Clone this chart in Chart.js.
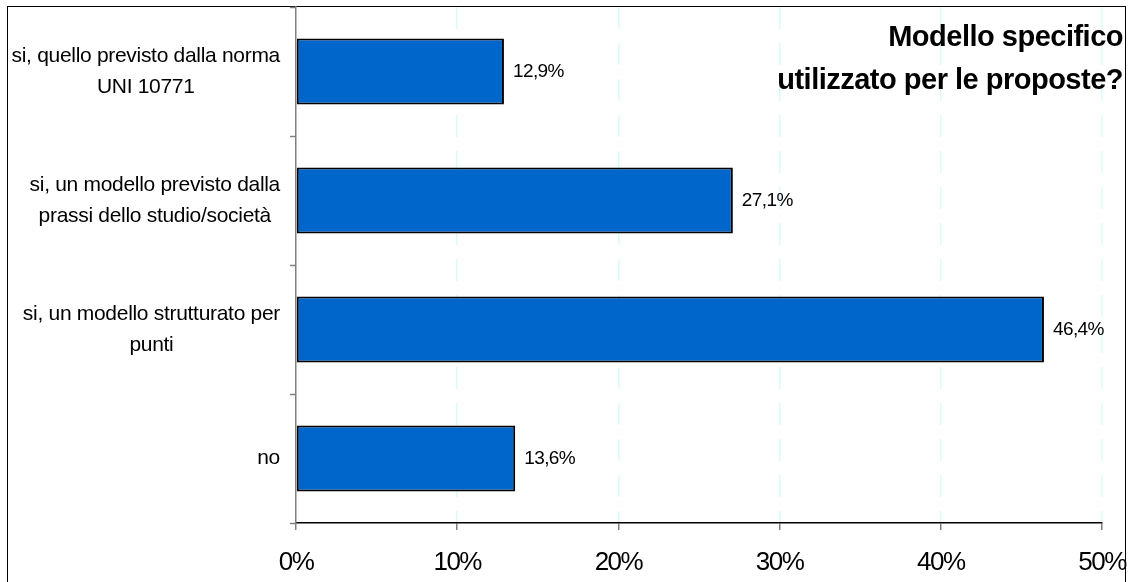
<!DOCTYPE html>
<html>
<head>
<meta charset="utf-8">
<script src="https://cdn.jsdelivr.net/npm/chart.js@4/dist/chart.umd.min.js"></script>
<style>
  html, body { margin: 0; padding: 0; background: #fff; overflow: hidden; }
  #frame {
    position: absolute; left: 7px; top: 6px; width: 1119px; height: 600px;
    border: 1.5px solid #000; box-sizing: border-box;
  }
  #wrap { position: absolute; left: 0; top: 0; width: 1134px; height: 582px; }
</style>
</head>
<body>
<div id="frame"></div>
<div id="wrap"><canvas id="modelChart" width="1134" height="582"></canvas></div>
<script>
// Risposte: modello specifico utilizzato per le proposte
const categories = [
  ['si, quello previsto dalla norma', 'UNI 10771'],
  ['si, un modello previsto dalla', 'prassi dello studio/società'],
  ['si, un modello strutturato per', 'punti'],
  ['no']
];
const percentages = [12.9, 27.1, 46.4, 13.6];
const xTicks = [0, 10, 20, 30, 40, 50];
const titleLines = ['Modello specifico', 'utilizzato per le proposte?'];

const FONT = '"Liberation Sans", Arial, sans-serif';

// formato italiano con la virgola
const fmtPct = v => v.toFixed(1).replace('.', ',') + '%';

// etichette delle categorie: blocco allineato a destra, righe centrate tra loro
const categoryLabels = {
  id: 'categoryLabels',
  afterDraw(chart) {
    const { ctx } = chart;
    const yScale = chart.scales.y;
    const right = chart.chartArea.left - 16;
    ctx.save();
    ctx.letterSpacing = '-0.3px';
    ctx.font = '21px ' + FONT;
    ctx.fillStyle = '#000';
    ctx.textAlign = 'center';
    ctx.textBaseline = 'middle';
    const lineH = 31;
    categories.forEach((lines, i) => {
      const cy = yScale.getPixelForValue(i);
      const w = Math.max(...lines.map(l => ctx.measureText(l).width));
      const cx = right - w / 2;
      const y0 = cy - (lines.length - 1) * lineH / 2;
      lines.forEach((l, j) => ctx.fillText(l, cx, y0 + j * lineH));
    });
    ctx.restore();
  }
};

// valori a destra delle barre
const valueLabels = {
  id: 'valueLabels',
  afterDatasetsDraw(chart) {
    const { ctx } = chart;
    const meta = chart.getDatasetMeta(0);
    ctx.save();
    ctx.letterSpacing = '-0.6px';
    ctx.font = '19px ' + FONT;
    ctx.fillStyle = '#000';
    ctx.textAlign = 'left';
    ctx.textBaseline = 'middle';
    meta.data.forEach((bar, i) => {
      ctx.fillText(fmtPct(percentages[i]), bar.x + 9, bar.y);
    });
    ctx.restore();
  }
};

// titolo in alto a destra, sopra l'area del grafico
const cornerTitle = {
  id: 'cornerTitle',
  afterDraw(chart) {
    const { ctx } = chart;
    ctx.save();
    ctx.letterSpacing = '-0.5px';
    ctx.font = 'bold 29px ' + FONT;
    ctx.fillStyle = '#000';
    ctx.textAlign = 'right';
    ctx.textBaseline = 'alphabetic';
    ctx.fillText(titleLines[0], 1123, 46);
    ctx.fillText(titleLines[1], 1123, 89);
    ctx.restore();
  }
};

// spaziatura stretta per le etichette dell'asse x
const tightTicks = {
  id: 'tightTicks',
  beforeDraw(chart) { chart.ctx.letterSpacing = '-1.5px'; },
  beforeDatasetsDraw(chart) { chart.ctx.letterSpacing = '0px'; }
};

new Chart(document.getElementById('modelChart').getContext('2d'), {
  type: 'bar',
  data: {
    labels: categories,
    datasets: [{
      data: percentages,
      backgroundColor: '#0066CC',
      borderColor: '#000',
      borderWidth: 2,
      borderSkipped: false,
      categoryPercentage: 1,
      barPercentage: 0.51
    }]
  },
  options: {
    indexAxis: 'y',
    responsive: false,
    animation: false,
    layout: { padding: { top: 7, right: 32, bottom: 0, left: 0 } },
    plugins: {
      legend: { display: false },
      tooltip: { enabled: false },
      title: { display: false }
    },
    scales: {
      x: {
        min: 0,
        max: 50,
        afterBuildTicks: scale => { scale.ticks = xTicks.map(v => ({ value: v })); },
        ticks: {
          callback: v => v + '%',
          color: '#000',
          font: { family: FONT, size: 26 },
          padding: 17,
          maxRotation: 0
        },
        grid: {
          color: ctx => (ctx.tick && ctx.tick.value === 0) ? 'rgba(0,0,0,0)' : '#d8fbfb',
          lineWidth: 1.5,
          tickColor: '#808080',
          tickLength: 7,
          tickWidth: 1.5,
          tickBorderDash: []
        },
        border: { color: '#000', width: 1.5, dash: [22, 14] },
        afterFit: scale => {
          scale.height = 59;
          scale.paddingLeft = 0;
          scale.paddingRight = 0;
        }
      },
      y: {
        ticks: { display: false },
        grid: {
          offset: true,
          drawOnChartArea: false,
          tickColor: '#808080',
          tickLength: 6,
          tickWidth: 1.5
        },
        border: { color: '#808080', width: 1.5 },
        afterFit: scale => { scale.width = 296; }
      }
    }
  },
  plugins: [tightTicks, valueLabels, categoryLabels, cornerTitle]
});
</script>
</body>
</html>
